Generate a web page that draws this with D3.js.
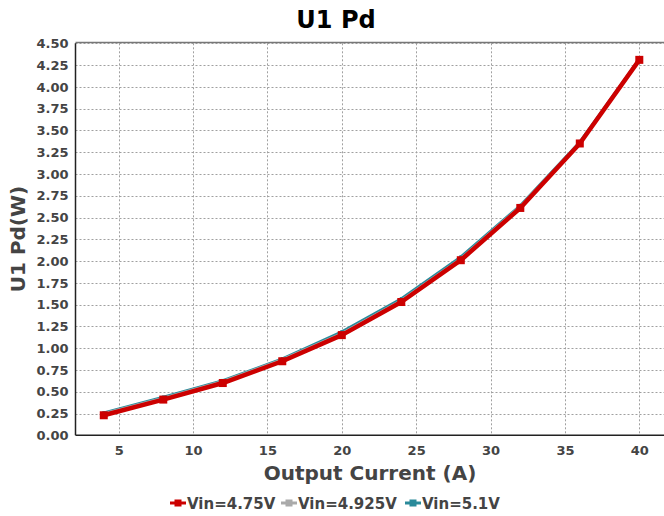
<!DOCTYPE html>
<html>
<head>
<meta charset="utf-8">
<script src="https://cdn.jsdelivr.net/npm/d3@7"></script>
<style>
  html, body { margin: 0; padding: 0; background: #fff; }
  svg { display: block; font-family: "DejaVu Sans", sans-serif; }
</style>
</head>
<body>
<svg id="chart" width="664" height="516"></svg>
<script>
// Output current (A)
const currents = [4, 8, 12, 16, 20, 24, 28, 32, 36, 40];
// U1 power dissipation (W) per input voltage
const pdVin475 = [0.23, 0.41, 0.60, 0.85, 1.15, 1.53, 2.01, 2.61, 3.35, 4.31];
const pdVin4925 = [0.25, 0.43, 0.62, 0.87, 1.17, 1.55, 2.03, 2.63, 3.36, 4.31];
const pdVin51 = [0.26, 0.44, 0.63, 0.88, 1.19, 1.57, 2.05, 2.64, 3.37, 4.32];
const seriesNames = ["Vin=4.75V", "Vin=4.925V", "Vin=5.1V"];
const xTicks = [5, 10, 15, 20, 25, 30, 35, 40];
const yTicks = d3.range(0, 4.5001, 0.25);

const series = [
  { name: seriesNames[0], values: pdVin475, color: "#cc0000", width: 4.5, marker: 8 },
  { name: seriesNames[1], values: pdVin4925, color: "#aaaaaa", width: 2.5, marker: 3 },
  { name: seriesNames[2], values: pdVin51, color: "#2a8a9a", width: 2.5, marker: 3 }
];

const svg = d3.select("#chart");
const plot = { left: 75.5, top: 43.3, right: 664, bottom: 435.3 };

const x = d3.scaleLinear().domain([2.1, 41.66]).range([plot.left, plot.left + 588.5]);
const y = d3.scaleLinear().domain([0, 4.5]).range([plot.bottom, plot.top]);

svg.append("defs").append("clipPath").attr("id", "plotClip")
  .append("rect")
  .attr("x", plot.left).attr("y", plot.top - 6)
  .attr("width", plot.right - plot.left).attr("height", plot.bottom - plot.top + 12);

// grid
const grid = svg.append("g").attr("stroke", "#a0a0a0").attr("stroke-width", 1)
  .attr("stroke-dasharray", "2,2");
grid.selectAll("line.h").data(yTicks.slice(1)).join("line")
  .attr("x1", plot.left).attr("x2", plot.right)
  .attr("y1", d => Math.round(y(d)) + 0.5).attr("y2", d => Math.round(y(d)) + 0.5);
grid.selectAll("line.v").data(xTicks).join("line")
  .attr("y1", plot.top).attr("y2", plot.bottom)
  .attr("x1", d => Math.round(x(d)) + 0.5).attr("x2", d => Math.round(x(d)) + 0.5);

// top frame
svg.append("line")
  .attr("x1", plot.left).attr("x2", plot.right)
  .attr("y1", 42.5).attr("y2", 42.5)
  .attr("stroke", "#777").attr("stroke-width", 1.5);

// axes
const xAxis = d3.axisBottom(x).tickValues(xTicks).tickSize(0).tickPadding(10)
  .tickFormat(d3.format("d"));
const gx = svg.append("g").attr("transform", `translate(0,${plot.bottom})`).call(xAxis);
gx.select(".domain").attr("stroke", "#222").attr("stroke-width", 1.5)
  .attr("d", `M${plot.left},0H${plot.right}`);

const yAxis = d3.axisLeft(y).tickValues(yTicks).tickSize(0).tickPadding(7)
  .tickFormat(d3.format(".2f"));
const gy = svg.append("g").attr("transform", `translate(${plot.left},0)`).call(yAxis);
gy.select(".domain").attr("stroke", "#222").attr("stroke-width", 1.5)
  .attr("d", `M0,${plot.top}V${plot.bottom}`);

svg.selectAll(".tick text")
  .attr("font-family", "DejaVu Sans, sans-serif")
  .attr("font-size", 13).attr("font-weight", "bold").attr("fill", "#444");

// lines
const line = d3.line().x((d, i) => x(currents[i])).y(d => y(d));
const lines = svg.append("g").attr("clip-path", "url(#plotClip)");
[series[2], series[1], series[0]].forEach(s => {
  const g = lines.append("g");
  g.append("path").datum(s.values)
    .attr("d", line).attr("fill", "none")
    .attr("stroke", s.color).attr("stroke-width", s.width)
    .attr("stroke-linejoin", "round");
  g.selectAll("rect").data(s.values).join("rect")
    .attr("x", (d, i) => x(currents[i]) - s.marker / 2)
    .attr("y", d => y(d) - s.marker / 2)
    .attr("width", s.marker).attr("height", s.marker)
    .attr("fill", s.color);
});

// titles
svg.append("text").attr("x", 336).attr("y", 28).attr("text-anchor", "middle")
  .attr("font-size", 24).attr("font-weight", "bold").attr("fill", "#000")
  .text("U1 Pd");
svg.append("text").attr("x", 370).attr("y", 480).attr("text-anchor", "middle")
  .attr("font-size", 20).attr("font-weight", "bold").attr("fill", "#444")
  .text("Output Current (A)");
svg.append("text").attr("transform", "translate(25,239) rotate(-90)")
  .attr("text-anchor", "middle")
  .attr("font-size", 20).attr("font-weight", "bold").attr("fill", "#444")
  .text("U1 Pd(W)");

// legend
const legendX = [170, 281, 405];
const legend = svg.append("g");
series.forEach((s, i) => {
  const g = legend.append("g").attr("transform", `translate(${legendX[i]},503)`);
  g.append("line").attr("x1", 0).attr("x2", 16).attr("y1", 0).attr("y2", 0)
    .attr("stroke", s.color).attr("stroke-width", 3);
  g.append("rect").attr("x", 4.5).attr("y", -3.5).attr("width", 7).attr("height", 7)
    .attr("fill", s.color);
  g.append("text").attr("x", 17).attr("y", 5.5)
    .attr("font-size", 15).attr("font-weight", "bold").attr("fill", "#444")
    .text(s.name);
});
</script>
</body>
</html>
